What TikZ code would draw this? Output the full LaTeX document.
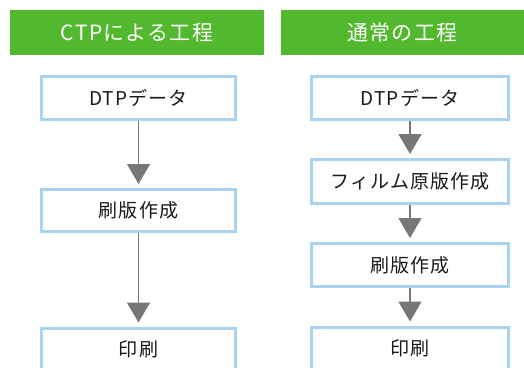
\documentclass[tikz,border=0pt]{standalone}
\usepackage{fontspec}
\setmainfont[LetterSpace=6]{Noto Sans CJK JP}
\usetikzlibrary{arrows.meta}
\definecolor{hdrgreen}{HTML}{52B82D}
\definecolor{boxblue}{HTML}{A8D4F2}
\definecolor{arrgray}{HTML}{777777}
\definecolor{txt}{HTML}{1A1A1A}
\tikzset{
  hdr/.style={fill=hdrgreen, text=white, inner sep=0pt, font=\fontsize{21}{24}\selectfont},
  stepbox/.style={draw=boxblue, line width=3pt, fill=white, text=txt, inner sep=0pt, font=\fontsize{19}{22}\selectfont},
  flow/.style={draw=arrgray, line width=1.5pt, -{Triangle[width=23pt,length=20pt]}, shorten >=4pt}
}
\begin{document}
\begin{tikzpicture}[x=1pt,y=-1pt]
\clip (0,0) rectangle (524,367);
\fill[white] (0,0) rectangle (524,367);
% headers
\node[hdr, minimum width=254pt, minimum height=45pt] (h1) at (137,32.5) {CTPによる工程};
\node[hdr, minimum width=243pt, minimum height=45pt] (h2) at (402.5,32.5) {通常の工程};
% left column
\node[stepbox, minimum width=194pt, minimum height=43pt] (l1) at (138.5,98) {DTPデータ};
\node[stepbox, minimum width=194pt, minimum height=42pt] (l2) at (138.5,210.5) {刷版作成};
\node[stepbox, minimum width=194pt, minimum height=43pt] (l3) at (138.5,349.5) {印刷};
% right column
\node[stepbox, minimum width=197pt, minimum height=43pt] (r1) at (410,98) {DTPデータ};
\node[stepbox, minimum width=197pt, minimum height=44pt] (r2) at (410,181.5) {フィルム原版作成};
\node[stepbox, minimum width=197pt, minimum height=43pt] (r3) at (410,265) {刷版作成};
\node[stepbox, minimum width=197pt, minimum height=43pt] (r4) at (410,348.5) {印刷};
% arrows
\draw[flow] (l1) -- (l2);
\draw[flow] (l2) -- (l3);
\draw[flow] (r1) -- (r2);
\draw[flow] (r2) -- (r3);
\draw[flow] (r3) -- (r4);
\end{tikzpicture}
\end{document}
